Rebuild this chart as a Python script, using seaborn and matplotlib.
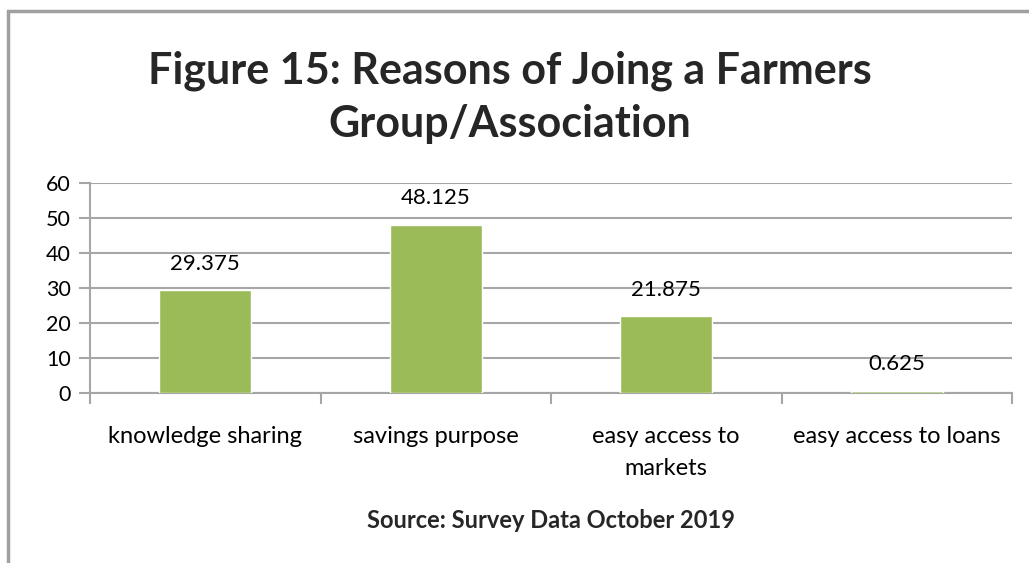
import matplotlib
matplotlib.use("Agg")
import matplotlib.pyplot as plt
import seaborn as sns
import pandas as pd
from matplotlib.patches import Rectangle

categories = ["knowledge sharing", "savings purpose", "easy access to\nmarkets", "easy access to loans"]
values = [29.375, 48.125, 21.875, 0.625]
value_labels = ["29.375", "48.125", "21.875", "0.625"]
y_ticks = [0, 10, 20, 30, 40, 50, 60]

sns.set_theme(style="white")
plt.rcParams["font.family"] = ["Lato", "DejaVu Sans"]

df = pd.DataFrame({"reason": categories, "percent": values})

fig = plt.figure(figsize=(10.29, 5.63), dpi=100)
ax = fig.add_axes([90 / 1029, 1 - 393 / 563, (1012 - 90) / 1029, (393 - 183) / 563])

sns.barplot(data=df, x="reason", y="percent", color="#9BBB59", width=0.4,
            saturation=1, ax=ax, zorder=3)

grid_color = "#A6A6A6"
ax.set_ylim(0, 60)
ax.set_xlim(-0.5, len(categories) - 0.5)
ax.set_yticks(y_ticks)
ax.yaxis.grid(True, color=grid_color, linewidth=1.5, zorder=0)
ax.set_axisbelow(True)
ax.set_xlabel("")
ax.set_ylabel("")

for side in ["top", "right"]:
    ax.spines[side].set_visible(False)
for side in ["left", "bottom"]:
    ax.spines[side].set_color(grid_color)
    ax.spines[side].set_linewidth(1.5)

# y ticks point outward to the left; x ticks sit on category boundaries
ax.tick_params(axis="y", which="major", direction="out", length=8, width=1.5,
               color=grid_color, labelsize=15.5, pad=6, left=True, labelcolor="black")
ax.set_xticks([i for i in range(len(categories))])
ax.set_xticklabels(categories, fontsize=17, linespacing=1.6)
ax.tick_params(axis="x", which="major", length=0, pad=24, labelcolor="black")
ax.set_xticks([i - 0.5 for i in range(len(categories) + 1)], minor=True)
ax.tick_params(axis="x", which="minor", direction="out", length=8, width=1.5,
               color=grid_color, bottom=True)

for bar, txt in zip(ax.patches, value_labels):
    x = bar.get_x() + bar.get_width() / 2
    ax.annotate(txt, (x, bar.get_height()), xytext=(0, 12), textcoords="offset points",
                ha="center", va="bottom", fontsize=16, color="black")

fig.text(510 / 1029, 1 - 97 / 563, "Figure 15: Reasons of Joing a Farmers\nGroup/Association",
         ha="center", va="center", fontsize=31, fontweight="bold", linespacing=1.4)
fig.text(551 / 1029, 1 - 521 / 563, "Source: Survey Data October 2019",
         ha="center", va="center", fontsize=17, fontweight="bold")

fig.patches.append(Rectangle((8 / 1029, -0.1), 1.2, 1 - 11 / 563 + 0.1, transform=fig.transFigure,
                             fill=False, edgecolor="#A0A0A0", linewidth=2.5, zorder=0))

fig.savefig("out.png", dpi=100)
